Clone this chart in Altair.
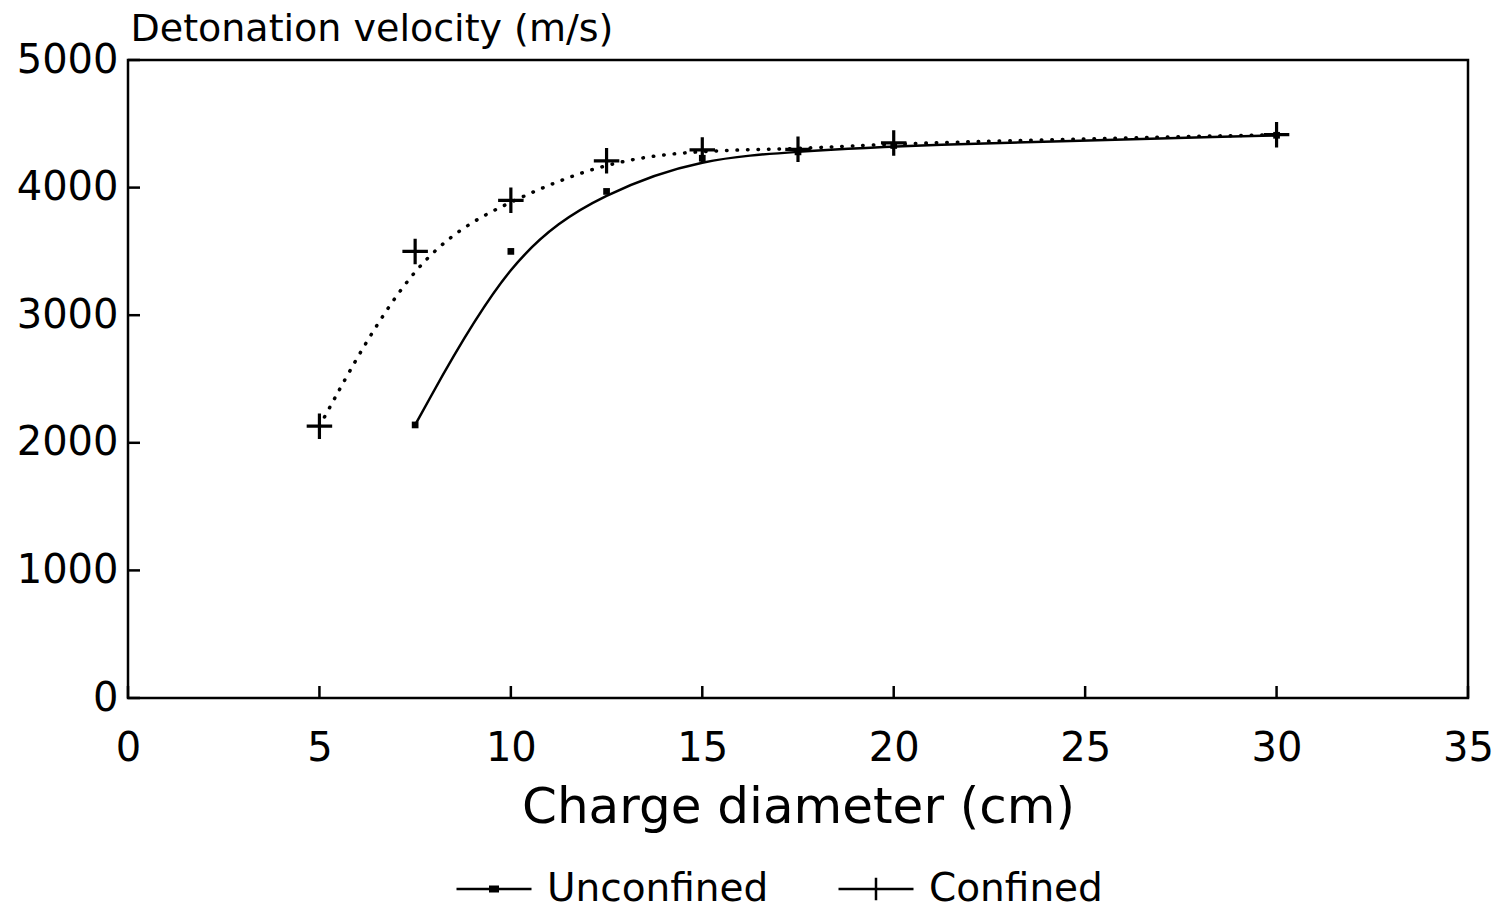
import altair as alt
import pandas as pd

# ---- data ----
diam_confined = [5, 7.5, 10, 12.5, 15, 17.5, 20, 30]
vel_confined = [2130, 3500, 3900, 4210, 4295, 4300, 4350, 4415]
diam_unconfined = [7.5, 10, 12.5, 15, 17.5, 20, 30]
vel_unconfined = [2140, 3500, 3970, 4230, 4280, 4330, 4410]
series_names = ["Unconfined", "Confined"]
x_ticks = [0, 5, 10, 15, 20, 25, 30, 35]
y_ticks = [0, 1000, 2000, 3000, 4000, 5000]

df_c = pd.DataFrame({"d": diam_confined, "v": vel_confined, "s": "Confined"})
df_u = pd.DataFrame({"d": diam_unconfined, "v": vel_unconfined, "s": "Unconfined"})
df_all = pd.concat([df_u, df_c], ignore_index=True)
df_xt = pd.DataFrame({"d": x_ticks})
df_yt = pd.DataFrame({"v": y_ticks})

FONT = "DejaVu Sans"
PLUS = "M-1,0H1M0,-1V1"
W, H = 1340, 638
TICK = 12

x_scale = alt.Scale(domain=[0, 35], nice=False, zero=False)
y_scale = alt.Scale(domain=[0, 5000], nice=False)

x_enc = alt.X(
    "d:Q",
    scale=x_scale,
    axis=alt.Axis(
        values=x_ticks, title="Charge diameter (cm)", ticks=False, domain=False, grid=False,
        labelPadding=30, labelFontSize=40, labelFont=FONT, labelColor="black",
        labelFlush=False, labelOverlap=False, format="d",
        titleFontSize=50, titleFont=FONT, titleFontWeight="normal", titleColor="black",
        titleY=124, titleBaseline="alphabetic",
    ),
)
y_enc = alt.Y(
    "v:Q",
    scale=y_scale,
    axis=alt.Axis(
        values=y_ticks, title="Detonation velocity (m/s)", ticks=False, domain=False, grid=False,
        labelPadding=10, labelFontSize=40, labelFont=FONT, labelColor="black",
        labelFlush=False, labelOverlap=False, format="d",
        titleFontSize=38, titleFont=FONT, titleFontWeight="normal", titleColor="black",
        titleAngle=0, titleX=2, titleY=-20, titleAlign="left", titleBaseline="alphabetic",
    ),
)

# inward tick marks
xticks_layer = alt.Chart(df_xt).mark_rule(color="black", strokeWidth=2.5).encode(
    x=alt.X("d:Q", scale=x_scale), y=alt.value(H), y2=alt.value(H - TICK)
)
yticks_layer = alt.Chart(df_yt).mark_rule(color="black", strokeWidth=2.5).encode(
    y=alt.Y("v:Q", scale=y_scale), x=alt.value(0), x2=alt.value(TICK)
)

line_u = alt.Chart(df_u).mark_line(
    interpolate="basis", color="black", strokeWidth=2.5
).encode(x=x_enc, y=y_enc)

line_c = alt.Chart(df_c).mark_line(
    interpolate="basis", color="black", strokeWidth=3.5, strokeDash=[0.5, 10], strokeCap="round"
).encode(x=x_enc, y=y_enc)

pts_u = alt.Chart(df_u).mark_square(size=45, color="black", opacity=1).encode(x=x_enc, y=y_enc)

pts_c = alt.Chart(df_c).mark_point(
    shape=PLUS, size=650, filled=False, stroke="black", strokeWidth=3.2, opacity=1
).encode(x=x_enc, y=y_enc)

legend_layer = alt.Chart(df_all).transform_filter("false").mark_point(
    filled=False, color="black", strokeWidth=2.5, opacity=1, size=5625
).encode(
    shape=alt.Shape(
        "s:N",
        scale=alt.Scale(
            domain=series_names,
            range=["M-1,0H1M-0.1,-0.06H0.1V0.06H-0.1Z", "M-1,0H1M0,-0.3V0.3"],
        ),
        legend=alt.Legend(
            title=None, orient="none", direction="horizontal", legendX=327, legendY=790,
            labelFontSize=39, labelFont=FONT, labelColor="black", labelOffset=14,
            symbolSize=5625, symbolStrokeWidth=2.5, symbolStrokeColor="black",
            symbolFillColor="black", columnPadding=64, labelLimit=400,
        ),
    )
)

chart = alt.layer(
    line_u, line_c, pts_u, pts_c, xticks_layer, yticks_layer, legend_layer
).properties(
    width=W, height=H,
    autosize=alt.AutoSizeParams(type="none"),
    padding={"left": 128, "top": 60, "right": 32, "bottom": 214},
).configure(
    background="white"
).configure_view(
    stroke="black", strokeWidth=2.5
)

chart.save("out.html", embed_options={"renderer": "svg", "actions": False})
